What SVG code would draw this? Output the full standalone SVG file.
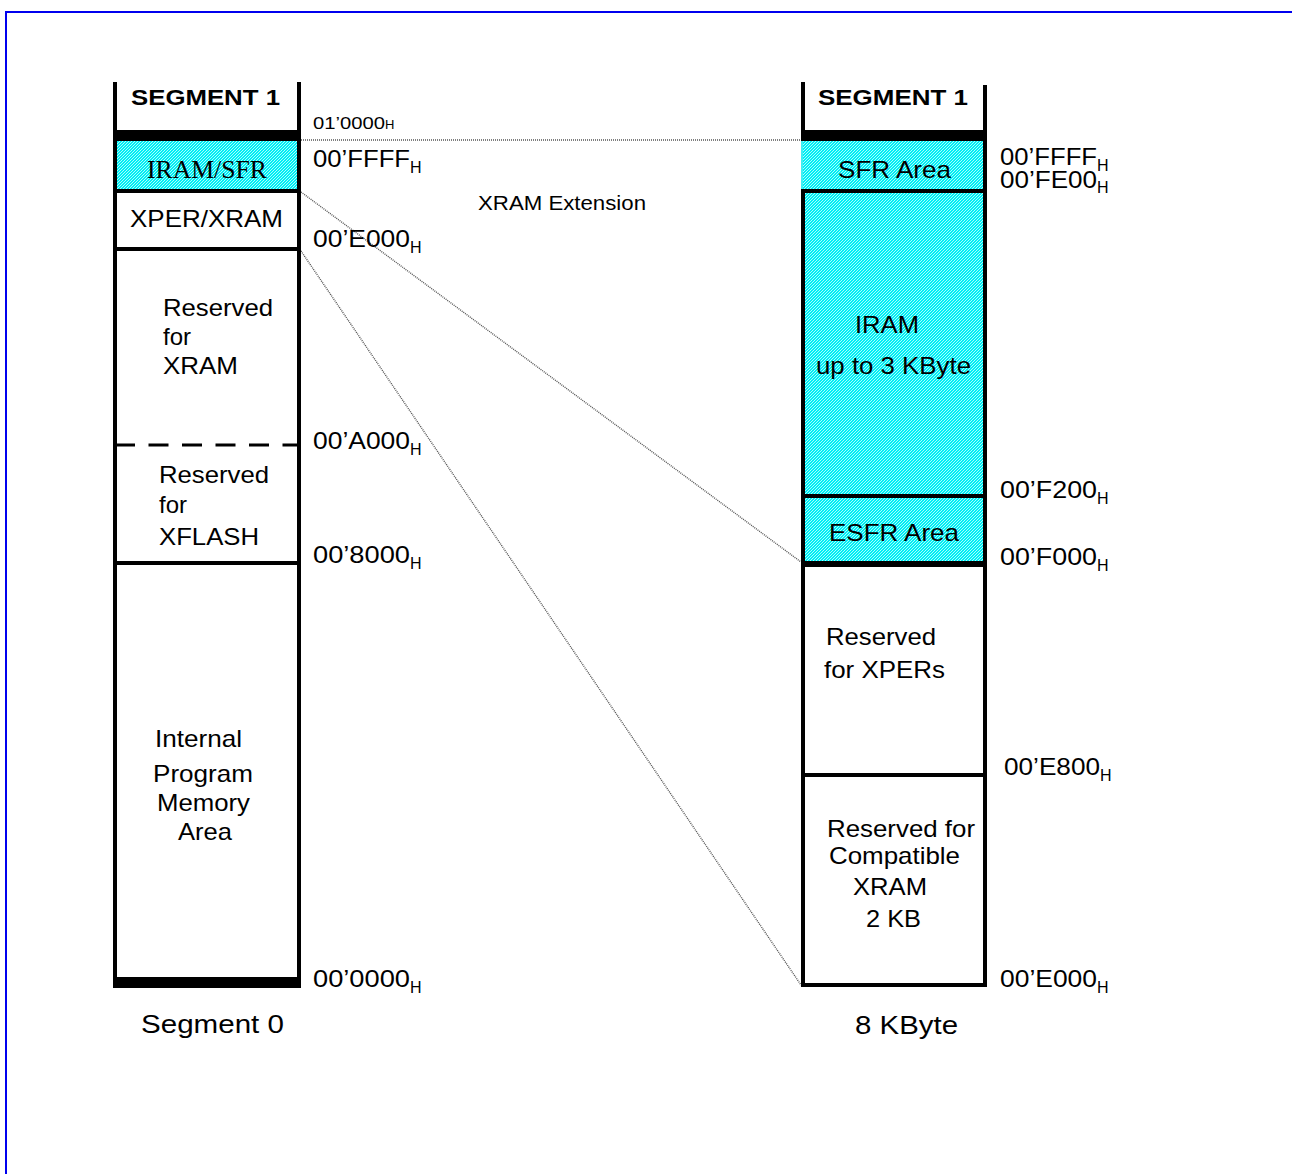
<svg xmlns="http://www.w3.org/2000/svg" width="1292" height="1174" viewBox="0 0 1292 1174">
<defs>
<pattern id="hatch" patternUnits="userSpaceOnUse" width="3" height="3">
<rect width="3" height="3" fill="#00EEF4"/>
<path d="M-1,1 L1,-1 M0,3 L3,0 M2,4 L4,2" stroke="#D8FFFF" stroke-width="0.8"/>
</pattern>
</defs>
<style>
text{font-family:"Liberation Sans",Arial,sans-serif;fill:#000;}
.lbl{font-size:24px;}
.addr{font-size:24px;}
.sub{font-size:16px;}
.seg{font-size:22px;font-weight:bold;}
.bd{stroke:#000;stroke-width:4;fill:none;}
.conn{stroke:#555;stroke-width:1.4;stroke-dasharray:1 1;fill:none;}
</style>
<rect x="6" y="12" width="1300" height="1200" fill="none" stroke="#0000EE" stroke-width="2"/>
<rect x="6" y="11" width="1290" height="2" fill="#0000EE"/>

<g id="connectors">
<line class="conn" x1="301" y1="140" x2="801" y2="140"/>
<line class="conn" x1="301" y1="192" x2="801" y2="562"/>
<line class="conn" x1="301" y1="251" x2="801" y2="985"/>
</g>

<g id="segment0">
<rect x="115" y="141" width="184" height="50" fill="url(#hatch)"/>
<line class="bd" x1="115" y1="82" x2="115" y2="988"/>
<line class="bd" x1="299" y1="82" x2="299" y2="988"/>
<rect x="113" y="130" width="188" height="11" fill="#000"/>
<line class="bd" x1="113" y1="191" x2="301" y2="191"/>
<line class="bd" x1="113" y1="249" x2="301" y2="249"/>
<line x1="115" y1="445" x2="297" y2="445" stroke="#000" stroke-width="3" stroke-dasharray="20 13.5"/>
<line class="bd" x1="113" y1="563" x2="301" y2="563"/>
<rect x="113" y="977" width="188" height="11" fill="#000"/>
<text class="seg" x="131" y="105" textLength="149" lengthAdjust="spacingAndGlyphs">SEGMENT 1</text>
<text x="147" y="178" textLength="120" lengthAdjust="spacingAndGlyphs" style="font-family:'Liberation Serif','Times New Roman',serif;font-size:25px;">IRAM/SFR</text>
<text class="lbl" x="130" y="227" textLength="153" lengthAdjust="spacingAndGlyphs">XPER/XRAM</text>
<text class="lbl" x="163" y="316" textLength="110" lengthAdjust="spacingAndGlyphs">Reserved</text>
<text class="lbl" x="163" y="345">for</text>
<text class="lbl" x="163" y="374" textLength="75" lengthAdjust="spacingAndGlyphs">XRAM</text>
<text class="lbl" x="159" y="483" textLength="110" lengthAdjust="spacingAndGlyphs">Reserved</text>
<text class="lbl" x="159" y="513">for</text>
<text class="lbl" x="159" y="545" textLength="100" lengthAdjust="spacingAndGlyphs">XFLASH</text>
<text class="lbl" x="155" y="747" textLength="87" lengthAdjust="spacingAndGlyphs">Internal</text>
<text class="lbl" x="153" y="782" textLength="100" lengthAdjust="spacingAndGlyphs">Program</text>
<text class="lbl" x="157" y="811" textLength="93" lengthAdjust="spacingAndGlyphs">Memory</text>
<text class="lbl" x="178" y="840" textLength="54" lengthAdjust="spacingAndGlyphs">Area</text>
<text x="141" y="1033" textLength="143" lengthAdjust="spacingAndGlyphs" style="font-size:26px;">Segment 0</text>
</g>

<g id="addr-left">
<text x="313" y="129" style="font-size:17px;"><tspan textLength="72" lengthAdjust="spacingAndGlyphs">01’0000</tspan><tspan style="font-size:13px;">H</tspan></text>
<text class="addr" x="313" y="167"><tspan textLength="97" lengthAdjust="spacingAndGlyphs">00’FFFF</tspan><tspan class="sub" dy="6">H</tspan></text>
<text class="addr" x="313" y="247"><tspan textLength="97" lengthAdjust="spacingAndGlyphs">00’E000</tspan><tspan class="sub" dy="6">H</tspan></text>
<text class="addr" x="313" y="449"><tspan textLength="97" lengthAdjust="spacingAndGlyphs">00’A000</tspan><tspan class="sub" dy="6">H</tspan></text>
<text class="addr" x="313" y="563"><tspan textLength="97" lengthAdjust="spacingAndGlyphs">00’8000</tspan><tspan class="sub" dy="6">H</tspan></text>
<text class="addr" x="313" y="987"><tspan textLength="97" lengthAdjust="spacingAndGlyphs">00’0000</tspan><tspan class="sub" dy="6">H</tspan></text>
</g>

<g id="xram-extension">
<text x="478" y="210" textLength="168" lengthAdjust="spacingAndGlyphs" style="font-size:20px;">XRAM Extension</text>
</g>

<g id="segment1">
<rect x="803" y="141" width="182" height="423" fill="url(#hatch)"/>
<line class="bd" x1="803" y1="82" x2="803" y2="141"/>
<line class="bd" x1="803" y1="189" x2="803" y2="987"/>
<line x1="802" y1="141" x2="802" y2="189" stroke="#00E8EE" stroke-width="1.5"/>
<line class="bd" x1="985" y1="85" x2="985" y2="987"/>
<rect x="801" y="130" width="186" height="11" fill="#000"/>
<line class="bd" x1="801" y1="191" x2="987" y2="191"/>
<line class="bd" x1="801" y1="496" x2="987" y2="496"/>
<line x1="801" y1="564" x2="987" y2="564" stroke="#000" stroke-width="6"/>
<line class="bd" x1="801" y1="775" x2="987" y2="775"/>
<line class="bd" x1="801" y1="985" x2="987" y2="985"/>
<text class="seg" x="818" y="105" textLength="150" lengthAdjust="spacingAndGlyphs">SEGMENT 1</text>
<text class="lbl" x="838" y="178" textLength="113" lengthAdjust="spacingAndGlyphs">SFR Area</text>
<text class="lbl" x="855" y="333" textLength="64" lengthAdjust="spacingAndGlyphs">IRAM</text>
<text class="lbl" x="816" y="374" textLength="155" lengthAdjust="spacingAndGlyphs">up to 3 KByte</text>
<text class="lbl" x="829" y="541" textLength="130" lengthAdjust="spacingAndGlyphs">ESFR Area</text>
<text class="lbl" x="826" y="645" textLength="110" lengthAdjust="spacingAndGlyphs">Reserved</text>
<text class="lbl" x="824" y="678" textLength="121" lengthAdjust="spacingAndGlyphs">for XPERs</text>
<text class="lbl" x="827" y="837" textLength="148" lengthAdjust="spacingAndGlyphs">Reserved for</text>
<text class="lbl" x="829" y="864" textLength="131" lengthAdjust="spacingAndGlyphs">Compatible</text>
<text class="lbl" x="853" y="895" textLength="74" lengthAdjust="spacingAndGlyphs">XRAM</text>
<text class="lbl" x="866" y="927" textLength="55" lengthAdjust="spacingAndGlyphs">2 KB</text>
<text x="855" y="1034" textLength="103" lengthAdjust="spacingAndGlyphs" style="font-size:26px;">8 KByte</text>
</g>

<g id="addr-right">
<text class="addr" x="1000" y="165"><tspan textLength="97" lengthAdjust="spacingAndGlyphs">00’FFFF</tspan><tspan class="sub" dy="6">H</tspan></text>
<text class="addr" x="1000" y="188"><tspan textLength="97" lengthAdjust="spacingAndGlyphs">00’FE00</tspan><tspan class="sub" dy="5">H</tspan></text>
<text class="addr" x="1000" y="498"><tspan textLength="97" lengthAdjust="spacingAndGlyphs">00’F200</tspan><tspan class="sub" dy="6">H</tspan></text>
<text class="addr" x="1000" y="565"><tspan textLength="97" lengthAdjust="spacingAndGlyphs">00’F000</tspan><tspan class="sub" dy="6">H</tspan></text>
<text class="addr" x="1004" y="775"><tspan textLength="96" lengthAdjust="spacingAndGlyphs">00’E800</tspan><tspan class="sub" dy="6">H</tspan></text>
<text class="addr" x="1000" y="987"><tspan textLength="97" lengthAdjust="spacingAndGlyphs">00’E000</tspan><tspan class="sub" dy="6">H</tspan></text>
</g>
</svg>
